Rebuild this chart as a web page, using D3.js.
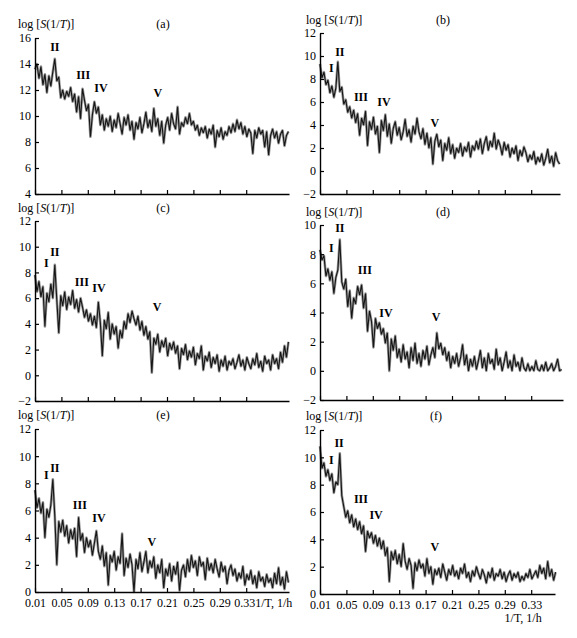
<!DOCTYPE html>
<html>
<head>
<meta charset="utf-8">
<script src="https://cdn.jsdelivr.net/npm/d3@7"></script>
<style>
  body { margin: 0; background: #fff; }
  svg { display: block; }
  text { font-family: "Liberation Serif", "DejaVu Serif", serif; fill: #000; }
</style>
</head>
<body>
<div id="container"></div>
<script>
/* CONSTANTS AND GLOBALS */
const width = 577,
  height = 638;

// frequency grid of the spectra (1/T, 1/h)
const freqStart = 0.01,
  freqStep = 0.003;

const xTickValues = [0.01, 0.05, 0.09, 0.13, 0.17, 0.21, 0.25, 0.29, 0.33];
const panelNames = ["(a)", "(b)", "(c)", "(d)", "(e)", "(f)"];
const peakNames = ["I", "II", "III", "IV", "V"];

const yTicksA = [4, 6, 8, 10, 12, 14, 16];
const yTicksB = [-2, 0, 2, 4, 6, 8, 10, 12];
const yTicksC = [-2, 0, 2, 4, 6, 8, 10, 12];
const yTicksD = [-2, 0, 2, 4, 6, 8, 10];
const yTicksE = [0, 2, 4, 6, 8, 10, 12];
const yTicksF = [0, 2, 4, 6, 8, 10, 12];

/* SPECTRA, log S(1/T) */
const spectrumA = [
  13.6, 14.0, 12.9, 13.8, 12.4, 13.2, 11.8, 13.1, 12.3, 13.4,
  14.4, 12.7, 13.0, 11.4, 12.0, 11.3, 11.9, 11.5, 12.2, 11.1,
  11.7, 10.3, 11.5, 9.8, 12.1, 11.2, 10.4, 10.9, 8.4, 10.1,
  11.1, 10.2, 10.7, 9.3, 10.1, 8.9, 9.8, 9.2, 10.0, 8.8,
  9.7, 9.1, 10.2, 9.4, 8.6, 9.9, 9.3, 10.1, 8.9, 9.6,
  8.2, 9.5, 9.0, 9.9, 8.7, 9.4, 10.3, 9.1, 9.7, 8.8,
  10.6, 9.2, 9.8, 8.5, 9.6, 7.9, 9.3, 9.9, 8.9, 10.2,
  9.4, 9.0, 10.7, 8.6, 9.5, 9.2, 9.9, 9.4, 10.2, 9.3,
  9.6, 8.9, 9.3, 8.5, 9.1, 8.7, 9.2, 8.3, 9.0, 8.6,
  9.3, 7.6, 8.9, 8.4, 9.1, 8.2, 8.8, 8.5, 9.2, 8.7,
  9.4, 8.8, 9.7, 9.0, 9.5, 8.6, 9.2, 8.4, 9.0, 8.7,
  7.1, 8.9, 8.3, 9.1, 8.6, 8.9, 7.6, 8.8, 7.0, 8.5,
  9.0, 8.3, 8.8, 7.9, 8.6, 8.9, 7.7, 8.5, 8.8
];
const spectrumB = [
  9.3, 8.1, 8.6, 7.5, 7.9, 6.8, 7.4, 6.4, 7.2, 9.5,
  6.9, 7.3, 5.8, 6.2, 5.1, 5.6, 4.6, 5.3, 4.2, 5.0,
  3.1, 4.6, 4.0, 5.2, 2.2, 4.3, 3.6, 4.7, 3.2, 3.9,
  1.6, 4.4, 3.5, 4.9, 3.0, 4.1, 2.4, 3.7, 4.3, 3.1,
  3.8, 2.7, 3.4, 4.5, 3.0, 3.6, 2.5, 3.9, 3.2, 4.6,
  3.4, 2.8, 3.7, 2.3, 3.3, 2.0, 2.9, 0.6, 2.6, 3.2,
  2.1, 2.7, 0.9, 2.4, 1.8, 2.9, 1.5, 2.3, 1.1, 2.0,
  1.6, 2.4, 1.3, 2.1, 1.7, 2.5, 1.2, 2.2, 1.8, 2.6,
  1.9, 2.8, 1.5, 2.4, 3.0, 1.8, 2.6, 2.1, 3.3, 1.9,
  2.7, 2.2, 1.4, 2.5, 1.8, 2.3, 1.2, 2.0, 1.5, 2.2,
  0.9, 1.8, 1.3, 2.1, 1.6, 0.8, 1.4, 1.0, 1.7, 0.6,
  1.2, 0.8, 1.5, 0.5, 1.1, 1.9, 0.7, 1.3, 0.4, 1.6, 0.9, 0.6
];
const spectrumC = [
  7.8, 6.5, 7.3, 6.1, 6.9, 3.8, 6.4, 5.7, 7.1, 6.0,
  8.6, 5.9, 3.3, 6.2, 5.4, 6.5, 5.1, 6.1, 5.5, 6.6,
  5.2, 5.9, 4.9, 6.0, 5.3, 4.5, 5.1, 4.2, 4.8, 3.9,
  4.6, 3.7, 5.7, 4.1, 1.5, 4.3, 3.6, 4.9, 2.8, 4.0,
  3.2, 3.8, 2.1, 3.5, 2.9, 4.2, 3.6, 4.8, 4.1, 5.0,
  4.4, 3.9, 4.6, 3.5, 4.2, 3.1, 3.8, 2.8, 3.4, 0.2,
  2.9, 2.4, 3.2, 1.8, 2.7, 2.2, 2.9, 1.5, 2.5, 2.0,
  2.6, 1.7, 2.3, 0.5, 2.1, 1.6, 2.4, 1.2, 1.9, 1.4,
  2.2, 0.8, 1.7, 1.3, 2.3, 0.4, 1.5, 1.1, 1.8, 0.6,
  1.4, 0.9, 1.6, 0.3, 1.2, 0.7, 1.5, 0.4, 1.1, 0.8,
  1.3, 0.5, 1.0, 1.6, 0.7, 1.2, 0.4, 1.4, 0.9, 0.5,
  1.3, 0.8, 1.7, 0.6, 1.1, 0.3, 1.5, 0.9, 1.2, 0.4,
  1.6, 0.9, 1.3, 0.5, 1.8, 1.0, 2.3, 1.4, 2.6
];
const spectrumD = [
  8.3, 7.6, 7.9, 6.5, 7.0, 6.2, 6.8, 5.3, 6.4, 6.9,
  9.0, 6.1, 5.6, 6.3, 4.4, 5.5, 3.6, 5.0, 4.6, 5.8,
  5.2, 5.9, 4.3, 5.3, 2.7, 4.1, 3.4, 1.6, 3.6, 2.9,
  3.3, 2.5, 2.9, 1.9, 2.6, 0.0, 2.2, 1.4, 2.4, 0.9,
  1.5, 0.6, 1.8, 0.8, 1.3, 0.2, 1.6, 0.7, 1.9, 0.5,
  1.2, 0.3, 1.4, 0.8, 1.7, 0.4, 1.1, 1.6, 0.9, 2.6,
  1.5, 1.9, 1.1, 1.6, 0.7, 1.3, 0.2, 1.0, 0.5, 1.2,
  0.3, 0.9, 1.8, 0.4, 1.1, 0.0, 0.8, 0.3, 1.0, 0.1,
  0.7, 1.4, 0.2, 0.9, 0.0, 1.2, 0.5, 0.8, 0.1, 1.5,
  0.4, 0.9, 0.0, 0.6, 1.3, 0.2, 0.7, 0.0, 1.1, 0.3,
  0.6, 0.0, 0.9, 0.2, 0.0, 0.5, 0.0, 0.3, 0.0, 0.7,
  0.1, 0.0, 0.4, 0.0, 0.6, 0.0, 0.2, 0.5, 0.0, 0.3, 0.8, 0.0, 0.1
];
const spectrumE = [
  7.5, 6.2, 6.9, 5.8, 6.6, 4.0, 6.1, 5.5, 6.4, 8.3,
  5.6, 2.0, 5.2, 4.4, 5.3, 4.1, 4.9, 3.6, 4.6, 3.9,
  4.7, 2.6, 5.5, 3.8, 4.3, 2.9, 4.0, 3.3, 3.8, 2.7,
  3.6, 4.5, 3.0, 2.4, 3.4, 1.9, 2.9, 0.5, 2.7, 2.2,
  3.0, 1.6, 2.6, 2.1, 4.3, 1.2, 2.5, 1.8, 2.8, 2.0,
  0.0, 2.4, 1.7, 2.9, 1.5, 2.2, 3.0, 1.4, 2.3, 1.8,
  2.6, 1.0, 2.0, 1.4, 2.4, 0.3, 1.7, 1.2, 2.1, 0.8,
  1.9, 1.3, 2.2, 0.1, 1.6, 2.0, 1.1, 2.4, 1.5, 2.7,
  1.8, 2.3, 1.2, 2.6, 1.9, 2.2, 0.9, 2.5, 1.6, 2.1,
  1.4, 2.4, 1.7, 1.1, 2.2, 1.5, 1.9, 0.6, 1.6, 2.0,
  1.2, 1.7, 0.8, 1.4, 1.0, 1.9, 0.5, 1.3, 0.9, 1.6,
  0.6, 1.2, 0.3, 1.5, 0.8, 1.1, 0.4, 1.3, 0.7, 1.0,
  0.3, 1.4, 0.6, 1.8, 0.5, 1.1, 0.2, 1.5, 0.7
];
const spectrumF = [
  10.8, 9.2, 9.6, 8.6, 9.1, 8.3, 8.8, 7.4, 8.2, 8.0,
  10.3, 7.2, 6.4, 5.6, 6.1, 5.2, 5.8, 4.9, 5.5, 4.7,
  5.3, 4.4, 5.0, 3.1, 4.6, 4.1, 4.5, 3.7, 4.3, 3.5,
  4.1, 3.3, 3.9, 2.8, 3.4, 0.9, 3.1, 2.5, 3.2, 2.2,
  2.9, 2.0, 3.7, 2.4, 1.8, 2.6, 2.1, 0.4, 2.3, 1.7,
  2.5, 1.9, 2.2, 1.3, 2.6, 1.5, 2.0, 0.7, 1.8, 1.4,
  1.9, 1.2, 2.2, 1.6, 1.0, 1.8, 1.4, 2.1, 1.3, 1.7,
  1.1, 1.9, 1.5, 2.2, 1.2, 1.6, 0.9, 1.7, 1.3, 2.0,
  1.5, 1.1, 1.8, 1.4, 0.8, 1.6, 1.2, 1.9, 1.0, 1.5,
  1.3, 1.8, 1.1, 1.6, 0.9, 1.4, 1.7, 1.0, 1.5, 1.2,
  1.6, 0.9, 1.3, 1.0, 1.5, 1.2, 1.8, 1.1, 1.4, 1.7,
  1.2, 2.1, 1.5, 1.9, 1.1, 2.4, 1.3, 1.8, 1.0, 1.6
];

/* PEAK LABEL ANCHORS, in data units [1/T, log S] */
const peaksA = [null, [0.040, 15.3], [0.083, 13.15], [0.110, 12.2], [0.196, 11.8]];
const peaksB = [[0.027, 8.96], [0.040, 10.35], [0.072, 6.43], [0.107, 6.0], [0.184, 4.17]];
const peaksC = [[0.027, 8.73], [0.040, 9.59], [0.081, 7.26], [0.107, 6.79], [0.195, 5.31]];
const peaksD = [[0.027, 8.42], [0.040, 9.8], [0.078, 6.92], [0.110, 3.97], [0.186, 3.7]];
const peaksE = [[0.027, 8.62], [0.040, 9.13], [0.078, 6.41], [0.107, 5.46], [0.187, 3.69]];
const peaksF = [[0.027, 9.8], [0.039, 11.1], [0.072, 6.95], [0.095, 5.78], [0.184, 3.44]];

/* LAYOUT (pixels) */
const pxPerTickStep = 26.4; // pixels between 0.01, 0.05, ...
const panels = [
  { name: panelNames[0], data: spectrumA, peaks: peaksA, yTicks: yTicksA, x0: 35, x1: 289, yTop: 38, yBot: 194, titleX: 163, titleY: 28, logX: 18, xLabels: false },
  { name: panelNames[1], data: spectrumB, peaks: peaksB, yTicks: yTicksB, x0: 320, x1: 560, yTop: 33, yBot: 194, titleX: 443, titleY: 24, logX: 306, xLabels: false },
  { name: panelNames[2], data: spectrumC, peaks: peaksC, yTicks: yTicksC, x0: 35, x1: 289, yTop: 221, yBot: 401, titleX: 163, titleY: 212, logX: 18, xLabels: false },
  { name: panelNames[3], data: spectrumD, peaks: peaksD, yTicks: yTicksD, x0: 320, x1: 563, yTop: 225, yBot: 400, titleX: 443, titleY: 216, logX: 306, xLabels: false },
  { name: panelNames[4], data: spectrumE, peaks: peaksE, yTicks: yTicksE, x0: 35, x1: 289, yTop: 429, yBot: 592, titleX: 163, titleY: 419, logX: 18, xLabels: "inline" },
  { name: panelNames[5], data: spectrumF, peaks: peaksF, yTicks: yTicksF, x0: 320, x1: 555, yTop: 430, yBot: 594, titleX: 436, titleY: 420, logX: 306, xLabels: "below" }
];

const svg = d3.select("#container").append("svg")
  .attr("width", width)
  .attr("height", height);

svg.append("rect")
  .attr("width", width)
  .attr("height", height)
  .attr("fill", "#fff");

panels.forEach(p => drawPanel(p));

function drawPanel(p) {
  const xEnd = 0.01 + (p.x1 - p.x0) / pxPerTickStep * 0.04;
  const x = d3.scaleLinear().domain([0.01, xEnd]).range([p.x0, p.x1]);
  const y = d3.scaleLinear()
    .domain([p.yTicks[0], p.yTicks[p.yTicks.length - 1]])
    .range([p.yBot, p.yTop]);

  const g = svg.append("g");

  // spectrum: grey halo + dark core, like the scanned trace
  const line = d3.line()
    .x((d, i) => x(freqStart + i * freqStep))
    .y(d => y(d));

  g.append("path")
    .datum(p.data)
    .attr("fill", "none")
    .attr("stroke", "#9a9a9a")
    .attr("stroke-width", 2.6)
    .attr("stroke-linejoin", "round")
    .attr("d", line);

  g.append("path")
    .datum(p.data)
    .attr("fill", "none")
    .attr("stroke", "#161616")
    .attr("stroke-width", 1.1)
    .attr("stroke-linejoin", "bevel")
    .attr("d", line);

  // axes
  const yAxis = d3.axisLeft(y)
    .tickValues(p.yTicks)
    .tickSize(-4)
    .tickSizeOuter(0)
    .tickPadding(4);

  const xAxis = d3.axisBottom(x)
    .tickValues(xTickValues)
    .tickSize(-4)
    .tickSizeOuter(0)
    .tickPadding(6)
    .tickFormat(p.xLabels ? d3.format(".2f") : "");

  const ya = g.append("g")
    .attr("transform", `translate(${p.x0},0)`)
    .call(yAxis);

  const xa = g.append("g")
    .attr("transform", `translate(0,${p.yBot})`)
    .call(xAxis);

  [ya, xa].forEach(a => {
    a.select(".domain").attr("stroke", "#000").attr("stroke-width", 1.4);
    a.selectAll(".tick line").attr("stroke", "#000").attr("stroke-width", 1.2);
    a.selectAll(".tick text")
      .attr("font-family", "Liberation Serif, serif")
      .attr("font-size", 12)
      .attr("fill", "#000");
  });

  if (p.xLabels === "inline") {
    // last tick label runs into the axis title
    xa.selectAll(".tick text").filter(d => d === 0.33).remove();
    g.append("text")
      .attr("x", x(0.33) - 12)
      .attr("y", p.yBot + 15)
      .attr("font-size", 12)
      .text("0.331/T, 1/h");
  }
  if (p.xLabels === "below") {
    g.append("text")
      .attr("x", x(0.33) + 10.5)
      .attr("y", p.yBot + 28)
      .attr("text-anchor", "end")
      .attr("font-size", 12)
      .text("1/T, 1/h");
  }

  // y title: log [S(1/T)]
  const t = g.append("text")
    .attr("x", p.logX)
    .attr("y", p.titleY)
    .attr("font-size", 12);
  t.append("tspan").text("log [");
  t.append("tspan").attr("font-style", "italic").text("S");
  t.append("tspan").text("(1/");
  t.append("tspan").attr("font-style", "italic").text("T");
  t.append("tspan").text(")]");

  // panel letter
  g.append("text")
    .attr("x", p.titleX)
    .attr("y", p.titleY)
    .attr("text-anchor", "middle")
    .attr("font-size", 12)
    .text(p.name);

  // peak labels
  p.peaks.forEach((pk, i) => {
    if (!pk) return;
    g.append("text")
      .attr("x", x(pk[0]))
      .attr("y", y(pk[1]))
      .attr("dy", "0.35em")
      .attr("text-anchor", "middle")
      .attr("font-size", 12)
      .attr("font-weight", "bold")
      .text(peakNames[i]);
  });
}
</script>
</body>
</html>
